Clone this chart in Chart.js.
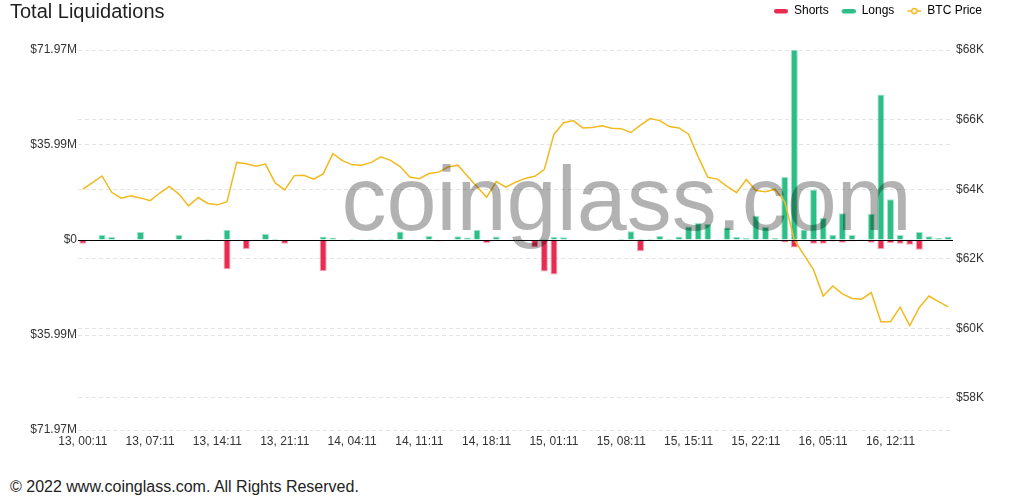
<!DOCTYPE html>
<html lang="en">
<head>
<meta charset="UTF-8">
<title>Total Liquidations</title>
<script src="https://cdn.jsdelivr.net/npm/chart.js"></script>
<style>
  html, body { margin: 0; padding: 0; background: #fff; overflow: hidden; }
  body { width: 1029px; height: 500px; position: relative; font-family: "Liberation Sans", Arial, sans-serif; }
  .title { position: absolute; left: 10px; top: 0; font-size: 20px; line-height: 23px; color: #1f1f1f; z-index: 2; }
  .chart-box { position: absolute; left: 0; top: 0; width: 1029px; height: 460px; }
  .footer { position: absolute; left: 10px; top: 478px; font-size: 16px; color: #222; }
</style>
</head>
<body>
<div class="title">Total Liquidations</div>
<div class="chart-box"><canvas id="liqChart"></canvas></div>
<div class="footer">© 2022 www.coinglass.com. All Rights Reserved.</div>

<script>
// hourly liquidations in $M, from "13, 00:11"
const startDay = 13;
const labelStep = 7;

const longs = [
  0.1, 0.1, 1.9, 1.1, 0, 0.2, 3.0, 0, 0.1, 0,
  1.9, 0.1, 0.2, 0.4, 0, 3.9, 0.1, 0.1, 0.3, 2.3,
  0.5, 0.1, 0, 0, 0.1, 1.3, 0.9, 0, 0.4, 0.1,
  0.4, 0.4, 0.4, 3.2, 0.1, 0, 1.5, 0.1, 0, 1.4,
  0.9, 3.8, 0.2, 1.3, 0, 0.1, 0, 0.2, 0.5, 1.1,
  1.0, 0, 0.1, 0, 0.1, 0.1, 0.5, 3.3, 0.5, 0.5,
  1.5, 0.5, 1.3, 5.1, 6.4, 6.1, 0.3, 4.7, 1.1, 0.8,
  9.2, 4.9, 0.8, 23.9, 71.97, 4.0, 19.1, 8.3, 2.0, 10.1,
  1.9, 0.3, 9.9, 55.1, 15.4, 1.9, 0.3, 3.0, 1.4, 0.8,
  1.3
];

const shorts = [
  1.4, 0.3, 0, 0, 0, 0.3, 0, 0, 0.3, 0,
  0, 0.2, 0.1, 0, 0, 11.1, 0.3, 3.4, 0, 0,
  0, 1.4, 0, 0.1, 0, 11.7, 0, 0, 0, 0.3,
  0, 0.5, 0, 0.1, 0.1, 0, 0, 0.6, 0, 0.1,
  0, 0, 1.1, 0.2, 0, 0.3, 0, 2.7, 11.9, 13.1,
  0.3, 0, 0.2, 0, 0, 0.2, 0, 0.3, 4.3, 0,
  0, 0.1, 0, 0.2, 0.2, 0.2, 0, 0.1, 0.5, 0,
  0.2, 0.4, 0, 0.9, 2.8, 0, 1.4, 1.4, 0.6, 1.0,
  0.6, 0.5, 1.0, 3.4, 1.1, 1.4, 1.8, 3.7, 0, 0,
  0
];

const btcPrice = [
  64000, 64190, 64380, 63910, 63740, 63810, 63750, 63670, 63890, 64080,
  63860, 63520, 63760, 63590, 63550, 63640, 64770, 64730, 64660, 64720,
  64180, 63980, 64390, 64400, 64290, 64440, 65020, 64820, 64700, 64690,
  64770, 64930, 64830, 64650, 64350, 64300, 64450, 64490, 64640, 64690,
  64380, 64070, 63770, 64220, 64060, 64200, 64310, 64370, 64570, 65580,
  65910, 65970, 65760, 65770, 65820, 65750, 65740, 65630, 65840, 66030,
  65970, 65800, 65760, 65580, 64930, 64340, 64290, 64080, 63900, 64280,
  63960, 63930, 64000, 63640, 62540, 62110, 61680, 60930, 61220, 60990,
  60860, 60840, 61030, 60190, 60190, 60610, 60080, 60600, 60930, 60770,
  60620
];

// axis ticks
const liqTicks = [-71.97, -35.99, 0, 35.99, 71.97];
const priceTicks = [58000, 60000, 62000, 64000, 66000, 68000];
const priceMin = 57080;
const priceMax = 68000;

const hours = [];
for (let i = 0; i < longs.length; i++) {
  const d = startDay + Math.floor(i / 24);
  const h = String(i % 24).padStart(2, '0');
  hours.push(d + ', ' + h + ':11');
}

const shortColor = 'rgb(232, 43, 80)';
const longColor = 'rgb(44, 190, 134)';
const priceColor = 'rgb(242, 186, 30)';

// small legend icons (bar pill / line with circle)
function legendIcon(color, kind) {
  const c = document.createElement('canvas');
  c.width = 22; c.height = 8;
  const g = c.getContext('2d');
  if (kind === 'bar') {
    g.fillStyle = color;
    g.beginPath();
    g.roundRect(8, 2, 14, 4.5, 2.2);
    g.fill();
  } else {
    g.strokeStyle = color;
    g.lineWidth = 1.5;
    g.beginPath(); g.moveTo(8, 4); g.lineTo(22, 4); g.stroke();
    g.fillStyle = '#fff';
    g.beginPath(); g.arc(15, 4, 2.6, 0, Math.PI * 2); g.fill(); g.stroke();
  }
  return c;
}

Chart.defaults.font.family = '"Liberation Sans", Arial, Helvetica, sans-serif';
Chart.defaults.font.size = 12;
Chart.defaults.color = '#333';

// zero line + watermark
const overlay = {
  id: 'overlay',
  beforeInit(chart) {
    const fit = chart.legend.fit;
    chart.legend.fit = function () {
      fit.bind(chart.legend)();
      this.height = 50;
    };
  },
  afterDatasetsDraw(chart) {
    const { ctx, chartArea: a, scales: { y } } = chart;
    const zy = Math.round(y.getPixelForValue(0)) + 0.5;
    ctx.save();
    ctx.strokeStyle = '#000';
    ctx.lineWidth = 1;
    ctx.beginPath();
    ctx.moveTo(a.left, zy);
    ctx.lineTo(a.right, zy);
    ctx.stroke();
    ctx.font = '90px "Liberation Sans", Arial, sans-serif';
    ctx.fillStyle = 'rgba(0, 0, 0, 0.3)';
    ctx.textAlign = 'center';
    ctx.textBaseline = 'alphabetic';
    ctx.fillText('coinglass.com', a.left + a.width * 0.627, a.top + a.height * 0.474);
    ctx.restore();
  }
};

const ctx = document.getElementById('liqChart').getContext('2d');
const liqChart = new Chart(ctx, {
  data: {
    labels: hours,
    datasets: [
      {
        type: 'line',
        label: 'BTC Price',
        data: btcPrice,
        borderColor: priceColor,
        borderWidth: 1.5,
        pointRadius: 0,
        tension: 0,
        yAxisID: 'y1',
        order: 0
      },
      {
        type: 'bar',
        label: 'Shorts',
        data: shorts.map(v => -v),
        backgroundColor: shortColor,
        borderColor: 'rgba(232, 43, 80, 0.45)',
        borderWidth: 1,
        yAxisID: 'y',
        order: 1
      },
      {
        type: 'bar',
        label: 'Longs',
        data: longs,
        backgroundColor: longColor,
        borderColor: 'rgba(44, 190, 134, 0.45)',
        borderWidth: 1,
        yAxisID: 'y',
        order: 1
      }
    ]
  },
  options: {
    responsive: true,
    maintainAspectRatio: false,
    animation: false,
    layout: { padding: { left: 0, right: 42, top: 0, bottom: 0 } },
    plugins: {
      tooltip: { enabled: false },
      legend: {
        position: 'top',
        align: 'end',
        labels: {
          usePointStyle: true,
          pointStyleWidth: 22,
          padding: 5,
          color: '#333',
          font: { size: 12 },
          generateLabels: () => [
            { text: 'Shorts', pointStyle: legendIcon(shortColor, 'bar'), fillStyle: shortColor, strokeStyle: shortColor, lineWidth: 0, hidden: false, datasetIndex: 1 },
            { text: 'Longs', pointStyle: legendIcon(longColor, 'bar'), fillStyle: longColor, strokeStyle: longColor, lineWidth: 0, hidden: false, datasetIndex: 2 },
            { text: 'BTC Price', pointStyle: legendIcon(priceColor, 'line'), fillStyle: priceColor, strokeStyle: priceColor, lineWidth: 0, hidden: false, datasetIndex: 0 }
          ]
        }
      }
    },
    scales: {
      x: {
        stacked: true,
        grid: { display: false, drawTicks: false },
        border: { display: false },
        afterFit: s => { s.height = 30; },
        ticks: {
          autoSkip: false,
          maxRotation: 0,
          padding: 4,
          color: '#333',
          callback: function (v, i) {
            return i % labelStep === 0 ? this.getLabelForValue(v) : '';
          }
        }
      },
      y: {
        position: 'left',
        stacked: true,
        min: liqTicks[0],
        max: liqTicks[liqTicks.length - 1],
        afterBuildTicks: s => { s.ticks = liqTicks.map(v => ({ value: v })); },
        afterFit: s => { s.width = 78; },
        grid: { color: '#e4e4e4', drawTicks: false },
        border: { display: false, dash: [4, 3] },
        ticks: {
          padding: 1,
          color: '#333',
          callback: v => v === 0 ? '$0' : '$' + Math.abs(v).toFixed(2) + 'M'
        }
      },
      y1: {
        position: 'right',
        min: priceMin,
        max: priceMax,
        afterBuildTicks: s => { s.ticks = priceTicks.map(v => ({ value: v })); },
        afterFit: s => { s.width = 34; },
        grid: { color: '#e4e4e4', drawTicks: false },
        border: { display: false, dash: [4, 3] },
        ticks: {
          padding: 3,
          color: '#333',
          callback: v => '$' + (v / 1000) + 'K'
        }
      }
    }
  },
  plugins: [overlay]
});
</script>
</body>
</html>
